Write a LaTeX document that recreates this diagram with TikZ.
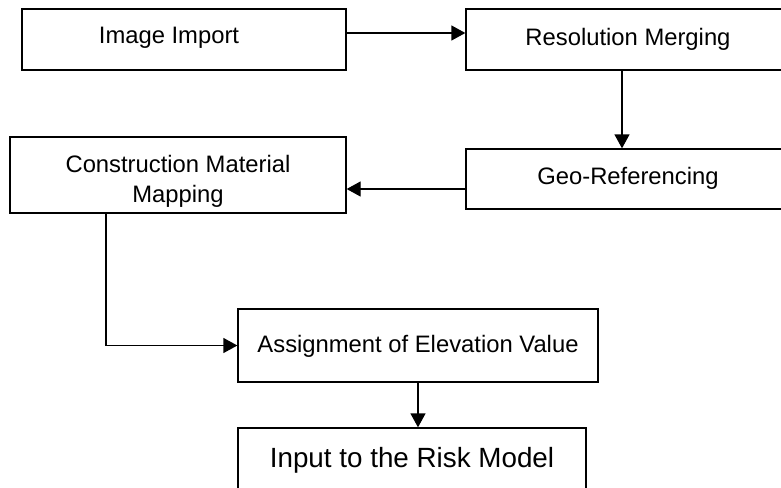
\documentclass[tikz,border=0pt]{standalone}
\usepackage{fontspec}
\setmainfont{Liberation Sans}
\usetikzlibrary{arrows.meta}

\begin{document}
\begin{tikzpicture} [x=0.5pt, y=-0.5pt, line width=0.65pt,
    blk/.style={draw, inner sep=0pt, align=center, font=\fontsize{11.9}{15}\selectfont},
    flow/.style={-{Triangle[length=7pt,width=7.5pt]}},
    ]
    \useasboundingbox (0,0) rectangle (781,487);

    \node[blk, minimum width=162pt, text height=17pt, text depth=13.5pt] (img) at (184,39.5) {Image Import\hspace*{15pt}};
    \node[blk, minimum width=162pt, text height=18pt, text depth=12.5pt] (res) at (628,39.5) {Resolution Merging};
    \node[blk, minimum width=162pt, text height=17.5pt, text depth=12.5pt] (geo) at (628,179) {Geo-Referencing};
    \node[blk, minimum width=168pt, text height=32.5pt, text depth=5.5pt] (cmm) at (178,175) {Construction Material\\Mapping};
    \node[blk, minimum width=180pt, text height=21.5pt, text depth=15pt] (asg) at (418,345.5) {Assignment of Elevation Value};
    \node[blk, minimum width=174pt, text height=19.5pt, text depth=26.5pt,
          font=\fontsize{13.9}{16}\selectfont] (inp) at (412,474) {Input to the Risk Model};

    \coordinate (g) at ([yshift=-5pt]geo.west);
    \draw[flow] ([yshift=3.25pt]img.east) -- ([yshift=3.25pt]res.west);
    \draw[flow] ([xshift=-3pt]res.south) -- ([xshift=-3pt]geo.north);
    \draw[flow] (g) -- (g -| cmm.east);
    \draw[flow] ([xshift=-36pt]cmm.south) |- (asg.west);
    \draw[flow] (asg.south) -- (asg.south |- inp.north);

\end{tikzpicture}
\end{document}
